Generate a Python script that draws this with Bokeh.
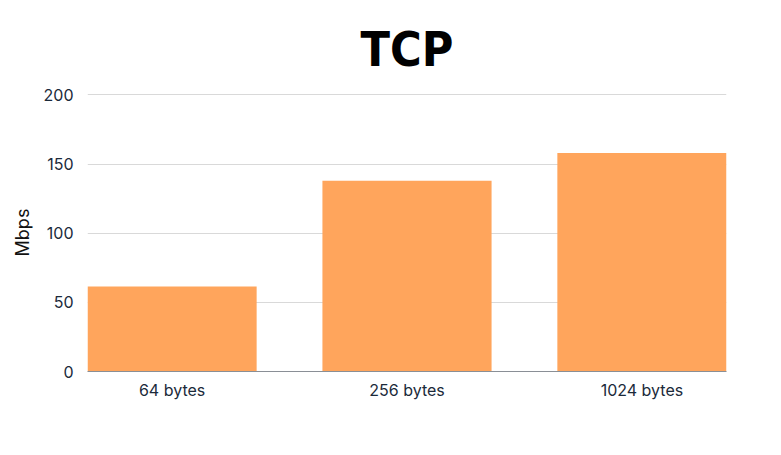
from bokeh.plotting import figure
from bokeh.models import FactorRange, Range1d, FixedTicker, ColumnDataSource
from bokeh.embed import file_html
from bokeh.resources import INLINE

categories = ["64 bytes", "256 bytes", "1024 bytes"]
mbps = [61.5, 138, 158]
y_ticks = [0, 50, 100, 150, 200]

src = ColumnDataSource(dict(cat=categories, val=mbps))

p = figure(width=765, height=447, output_backend="svg", toolbar_location=None,
           x_range=FactorRange(*categories, range_padding=-0.14, range_padding_units="absolute"),
           y_range=Range1d(0, 201),
           min_border_left=87, min_border_top=93, min_border_bottom=76, min_border_right=39)
p.title.text = "TCP"
p.title.align = "center"
p.title.text_font = "DejaVu Sans Condensed"
p.title.text_font_style = "bold"
p.title.text_font_size = "48px"
p.title.text_color = "#000000"
p.title.offset = 0
p.title.standoff = 34

p.vbar(x="cat", top="val", width=0.72, source=src, fill_color="#FFA55C", line_color=None)

p.outline_line_color = None
p.xgrid.grid_line_color = None
p.ygrid.grid_line_color = "#d9d9d9"
p.ygrid.grid_line_width = 1

p.yaxis.ticker = FixedTicker(ticks=y_ticks)
p.yaxis.axis_line_color = None
p.yaxis.major_tick_line_color = None
p.yaxis.minor_tick_line_color = None
p.yaxis.major_tick_out = 0
p.yaxis.major_tick_in = 0
p.yaxis.major_label_text_font = "Inter"
p.yaxis.major_label_text_font_size = "16px"
p.yaxis.major_label_text_font_style = "normal"
p.yaxis.major_label_text_color = "#1b2a3a"
p.yaxis.major_label_standoff = 14
p.yaxis.axis_label = "Mbps"
p.yaxis.axis_label_text_font = "Inter"
p.yaxis.axis_label_text_font_style = "normal"
p.yaxis.axis_label_text_font_size = "18px"
p.yaxis.axis_label_text_color = "#111111"
p.yaxis.axis_label_standoff = 8

p.xaxis.axis_line_color = "#8a8f96"
p.xaxis.major_tick_line_color = None
p.xaxis.minor_tick_line_color = None
p.xaxis.major_tick_out = 0
p.xaxis.major_tick_in = 0
p.xaxis.major_label_text_font = "Inter"
p.xaxis.major_label_text_font_size = "16px"
p.xaxis.major_label_text_color = "#1b2a3a"
p.xaxis.major_label_standoff = 8

open("out.html", "w").write(file_html(p, INLINE))
